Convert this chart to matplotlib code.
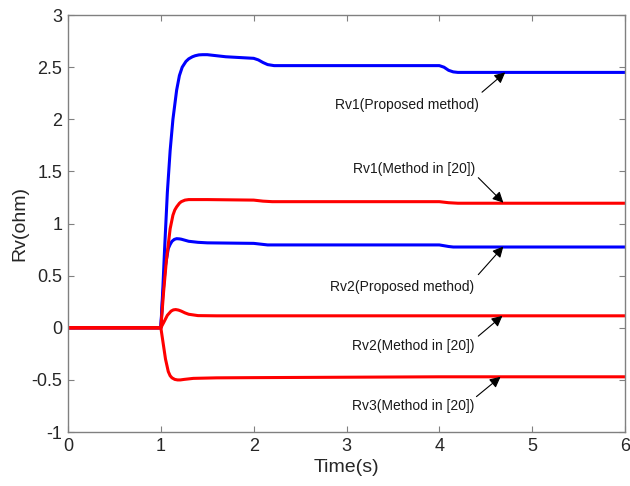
"""
Virtual resistance Rv response: proposed method vs. method in [20].
Generates: out.png
"""

import matplotlib
matplotlib.use('Agg')
import matplotlib.pyplot as plt

plt.rcParams['font.family'] = ['Liberation Sans', 'DejaVu Sans']

# ── data ─────────────────────────────────────────────────────────────────────
t_rv1_prop = [0, 1.0, 1.02, 1.04, 1.07, 1.10, 1.13, 1.17, 1.20, 1.23, 1.27, 1.30, 1.34, 1.37,
              1.41, 1.45, 1.50, 1.55, 1.7, 1.9, 2.0, 2.05, 2.10, 2.15, 2.22, 2.3,
              4.0, 4.05, 4.10, 4.15, 4.2, 6.0]
v_rv1_prop = [0, 0, 0.35, 0.75, 1.3, 1.7, 2.0, 2.28, 2.42, 2.5, 2.555, 2.58, 2.60, 2.61,
              2.618, 2.62, 2.62, 2.615, 2.60, 2.59, 2.585, 2.57, 2.545, 2.525, 2.515, 2.515,
              2.515, 2.50, 2.47, 2.455, 2.45, 2.45]

t_rv2_prop = [0, 1.0, 1.02, 1.05, 1.08, 1.10, 1.12, 1.145, 1.17, 1.20, 1.22, 1.26, 1.3,
              1.4, 1.5, 2.0, 2.1, 2.15, 4.0, 4.1, 4.15, 6.0]
v_rv2_prop = [0, 0, 0.3, 0.6, 0.76, 0.80, 0.83, 0.848, 0.855, 0.853, 0.85, 0.84, 0.83,
              0.82, 0.815, 0.81, 0.80, 0.795, 0.795, 0.78, 0.775, 0.775]

t_rv1_ref = [0, 1.0, 1.03, 1.06, 1.10, 1.13, 1.15, 1.17, 1.20, 1.22, 1.26, 1.3, 1.5,
             2.0, 2.1, 2.2, 4.0, 4.1, 4.2, 6.0]
v_rv1_ref = [0, 0, 0.35, 0.65, 0.95, 1.08, 1.13, 1.16, 1.195, 1.21, 1.225, 1.23, 1.23,
             1.225, 1.215, 1.21, 1.21, 1.20, 1.195, 1.195]

t_rv2_ref = [0, 1.0, 1.03, 1.07, 1.11, 1.135, 1.16, 1.19, 1.22, 1.26, 1.3, 1.4, 1.6, 6.0]
v_rv2_ref = [0, 0, 0.05, 0.12, 0.16, 0.172, 0.175, 0.17, 0.16, 0.143, 0.13, 0.117, 0.115, 0.115]

t_rv3_ref = [0, 1.0, 1.02, 1.05, 1.08, 1.10, 1.12, 1.15, 1.18, 1.21, 1.25, 1.35, 1.6,
             2.0, 4.0, 6.0]
v_rv3_ref = [0, 0, -0.12, -0.3, -0.42, -0.46, -0.48, -0.495, -0.5, -0.5, -0.495, -0.485,
             -0.48, -0.478, -0.47, -0.47]

# annotation labels: text position, arrow tail, arrow tip
labels = ['Rv1(Proposed method)', 'Rv1(Method in [20])', 'Rv2(Proposed method)',
          'Rv2(Method in [20])', 'Rv3(Method in [20])']
label_xy = [(3.65, 2.14), (3.73, 1.52), (3.60, 0.39), (3.72, -0.17), (3.72, -0.75)]
tail_xy = [(4.46, 2.26), (4.42, 1.44), (4.42, 0.51), (4.42, -0.08), (4.40, -0.66)]
tip_xy = [(4.71, 2.45), (4.69, 1.20), (4.69, 0.78), (4.68, 0.115), (4.66, -0.47)]

BLUE = '#0000FF'
RED = '#FF0000'
AXIS = '#808080'
TXT = '#262626'

fig = plt.figure(figsize=(6.3, 4.86), dpi=100)
ax = fig.add_axes([0.108, 0.111, 0.884, 0.858])

ax.plot(t_rv1_prop, v_rv1_prop, color=BLUE, lw=2.2)
ax.plot(t_rv2_prop, v_rv2_prop, color=BLUE, lw=2.2)
ax.plot(t_rv3_ref, v_rv3_ref, color=RED, lw=2.2)
ax.plot(t_rv2_ref, v_rv2_ref, color=RED, lw=2.2)
ax.plot(t_rv1_ref, v_rv1_ref, color=RED, lw=2.2)

for txt, pos, tail, tip in zip(labels, label_xy, tail_xy, tip_xy):
    ax.text(pos[0], pos[1], txt, ha='center', va='center', fontsize=10, color='#1a1a1a')
    ax.annotate('', xy=tip, xytext=tail,
                arrowprops=dict(arrowstyle='-|>', color='k', lw=0.8, mutation_scale=16,
                                shrinkA=0, shrinkB=0))

ax.set_xlim(0, 6)
ax.set_ylim(-1, 3)
ax.set_xticks(range(0, 7))
ax.set_yticks([-1, -0.5, 0, 0.5, 1, 1.5, 2, 2.5, 3])
ax.set_yticklabels(['-1', '-0.5', '0', '0.5', '1', '1.5', '2', '2.5', '3'])
ax.tick_params(direction='in', top=True, right=True, length=4, width=0.8,
               colors=AXIS, labelcolor=TXT, labelsize=13, pad=4)
for sp in ax.spines.values():
    sp.set_color(AXIS)
    sp.set_linewidth(1.0)

ax.set_xlabel('Time(s)', fontsize=14, color=TXT, labelpad=3)
ax.set_ylabel('Rv(ohm)', fontsize=14, color=TXT, labelpad=2)

fig.savefig('out.png', dpi=100)
plt.close(fig)
